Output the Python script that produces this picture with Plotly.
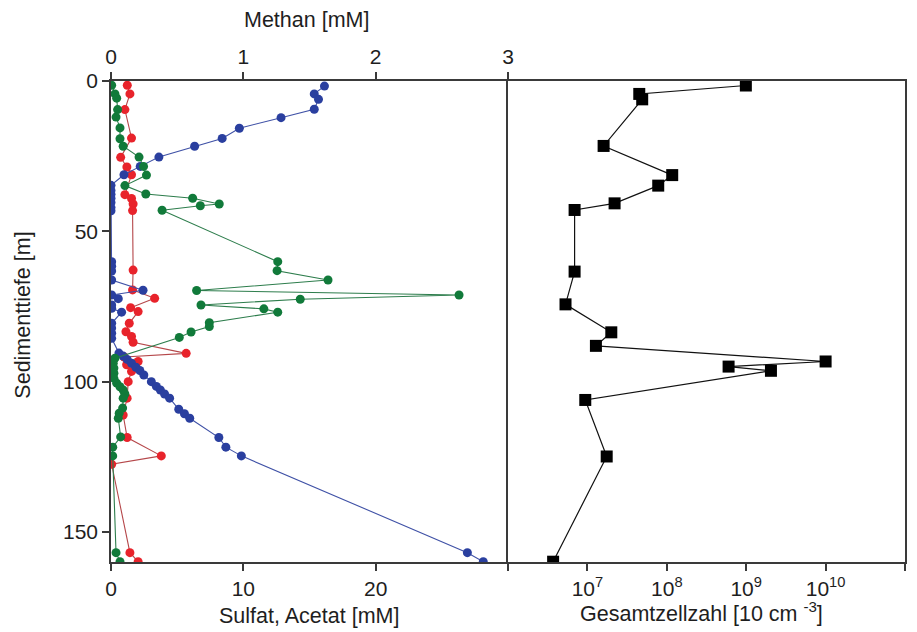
import plotly.graph_objects as go

# ---------------- data ----------------
depth_sulfat = [1.7, 4.3, 6.1, 9.4, 12.2, 15.7, 19.1, 21.7, 25.3, 28.4, 31.2, 34.7,
                36.4, 37.7, 39.0, 40.4, 42.1, 43.2, 60.1, 61.6, 63.2, 66.2, 69.6, 71.2,
                72.4, 74.5, 75.6, 76.9, 80.6, 82.2, 83.9, 85.6, 90.5, 91.5, 92.6, 93.9,
                95.2, 96.3, 97.8, 100.0, 101.6, 102.8, 104.1, 105.5, 109.2, 110.7, 112.2,
                118.6, 121.8, 124.7, 156.9, 159.9]
sulfat = [16.13, 15.36, 15.68, 15.36, 12.85, 9.70, 8.40, 6.32, 3.62, 2.21, 0.98, 0.0,
          0.0, 0.0, 0.0, 0.0, 0.0, 0.0, 0.05, 0.05, 0.05, 0.05, 2.42, 0.05,
          0.55, 0.05, 0.05, 0.8, 0.05, 0.05, 0.05, 0.05, 0.6, 0.92, 1.22, 1.55,
          1.88, 2.18, 2.48, 3.05, 3.43, 3.73, 4.05, 4.43, 5.12, 5.55, 5.95,
          8.15, 8.68, 9.85, 26.93, 28.13]

depth_methan = [1.4, 4.3, 5.7, 9.5, 12.0, 15.6, 19.2, 21.7, 25.3, 28.4, 31.3, 34.8,
                37.6, 39.0, 40.9, 41.5, 43.0, 60.1, 63.1, 66.2, 69.7, 71.2, 72.6, 74.5,
                75.8, 76.9, 80.4, 81.7, 83.5, 85.3, 92.2, 93.9, 95.5, 97.2, 98.9, 100.5,
                101.7, 102.8, 104.1, 105.5, 108.8, 110.5, 112.2, 118.4, 121.8, 124.7,
                156.9, 159.9]
methan = [0.005, 0.03, 0.043, 0.05, 0.038, 0.068, 0.068, 0.092, 0.212, 0.246, 0.268, 0.105,
          0.263, 0.617, 0.818, 0.675, 0.386, 1.26, 1.255, 1.64, 0.647, 2.63, 1.43, 0.68,
          1.155, 1.26, 0.743, 0.743, 0.605, 0.516, 0.03, 0.017, 0.022, 0.022, 0.022, 0.043,
          0.068, 0.092, 0.105, 0.092, 0.088, 0.062, 0.055, 0.073, 0.013, 0.013,
          0.038, 0.068]

depth_acetat = [1.4, 4.3, 9.5, 19.0, 25.4, 28.6, 31.2, 37.8, 39.1, 40.9, 43.1, 62.9,
                69.5, 72.3, 75.4, 76.7, 80.6, 83.4, 85.0, 86.9, 90.6, 91.8, 93.3, 94.4,
                95.5, 96.6, 100.0, 105.5, 111.1, 118.6, 124.7, 127.5, 156.9, 159.9]
acetat = [1.23, 1.43, 1.05, 1.55, 0.73, 1.2, 1.55, 1.05, 1.55, 1.67, 1.63, 1.67,
          1.63, 3.3, 1.48, 2.05, 1.38, 1.13, 1.55, 1.67, 5.68, 1.0, 2.05, 1.18,
          1.9, 1.55, 1.3, 1.22, 0.92, 1.22, 3.8, 0.05, 1.43, 2.05]

depth_zellen = [1.5, 4.3, 6.1, 21.6, 31.3, 34.8, 40.7, 42.9, 63.4, 74.3, 83.6, 88.1,
                93.3, 95.0, 96.4, 106.1, 124.9, 159.9]
zellen = [9.9e8, 4.5e7, 4.9e7, 1.6e7, 1.17e8, 7.8e7, 2.2e7, 6.9e6, 6.9e6, 5.3e6, 2.0e7,
          1.28e7, 1.0e10, 6.0e8, 2.05e9, 9.4e6, 1.75e7, 3.7e6]

log_tickvals = [1e7, 1e8, 1e9, 1e10]
log_ticktext = ["10<sup>7</sup>", "10<sup>8</sup>", "10<sup>9</sup>", "10<sup>10</sup>"]
log_edge_ticks = [1e6, 1e11]
bottom_tickvals = [0, 10, 20]
bottom_edge_ticks = [30]
top_tickvals = [0, 1, 2, 3]
depth_tickvals = [0, 50, 100, 150]

# ---------------- styles ----------------
FONT = "Liberation Sans, Arial, Helvetica, sans-serif"
AX = "#3a3a3a"
TXT = "#1e1e1e"
BLUE, BLUE_L = "#2a3f9f", "#3f51a6"
GREEN, GREEN_L = "#117a3a", "#2d7d4c"
RED, RED_L = "#e8232b", "#b5474a"

fig = go.Figure()

fig.add_trace(go.Scatter(x=methan, y=depth_methan, xaxis="x3", yaxis="y",
                         mode="lines+markers", line=dict(color=GREEN_L, width=1.1),
                         marker=dict(color=GREEN, size=9, line=dict(width=0)),
                         showlegend=False))
fig.add_trace(go.Scatter(x=acetat, y=depth_acetat, xaxis="x", yaxis="y",
                         mode="lines+markers", line=dict(color=RED_L, width=1.1),
                         marker=dict(color=RED, size=9, line=dict(width=0)),
                         showlegend=False))
fig.add_trace(go.Scatter(x=sulfat, y=depth_sulfat, xaxis="x", yaxis="y",
                         mode="lines+markers", line=dict(color=BLUE_L, width=1.1),
                         marker=dict(color=BLUE, size=9, line=dict(width=0)),
                         showlegend=False))
fig.add_trace(go.Scatter(x=zellen, y=depth_zellen, xaxis="x2", yaxis="y2",
                         mode="lines+markers", line=dict(color="#111111", width=1.2),
                         marker=dict(color="#000000", symbol="square", size=12,
                                     line=dict(width=0)),
                         showlegend=False))

tickfont = dict(family=FONT, size=21, color=TXT)
edge_minor = dict(ticks="outside", ticklen=7, tickwidth=1.5, tickcolor=AX, showgrid=False)

fig.update_layout(
    width=917, height=632,
    margin=dict(l=111, r=6, t=81, b=70),
    paper_bgcolor="white", plot_bgcolor="white",
    font=dict(family=FONT, color=TXT),
    xaxis=dict(domain=[0, 0.5], range=[0, 30], anchor="y",
               tickmode="array", tickvals=bottom_tickvals,
               ticks="outside", ticklen=7, tickwidth=1.5, tickcolor=AX,
               minor=dict(tickmode="array", tickvals=bottom_edge_ticks, **edge_minor),
               showline=True, linecolor=AX, linewidth=1.5, showgrid=False,
               zeroline=False, tickfont=tickfont),
    xaxis3=dict(range=[0, 3], overlaying="x", side="top", anchor="y",
                tickmode="array", tickvals=top_tickvals,
                ticks="outside", ticklen=7, tickwidth=1.5, tickcolor=AX,
                showline=True, linecolor=AX, linewidth=1.5, showgrid=False,
                zeroline=False, tickfont=tickfont),
    yaxis=dict(domain=[0, 1], range=[160, 0], anchor="x",
               tickmode="array", tickvals=depth_tickvals,
               ticks="outside", ticklen=7, tickwidth=1.5, tickcolor=AX,
               showline=True, linecolor=AX, linewidth=1.5, showgrid=False,
               zeroline=False, tickfont=tickfont),
    xaxis2=dict(domain=[0.5, 1], type="log", range=[6, 11], anchor="y2",
                tickmode="array", tickvals=log_tickvals, ticktext=log_ticktext,
                ticks="outside", ticklen=7, tickwidth=1.5, tickcolor=AX,
                minor=dict(tickmode="array", tickvals=log_edge_ticks, **edge_minor),
                showline=True, mirror=True, linecolor=AX, linewidth=1.5,
                showgrid=False, zeroline=False, tickfont=tickfont),
    yaxis2=dict(domain=[0, 1], range=[160, 0], anchor="x2",
                showticklabels=False, ticks="",
                showline=True, mirror=True, linecolor=AX, linewidth=1.5,
                showgrid=False, zeroline=False),
)

titlefont = dict(family=FONT, size=21.5, color=TXT)
annots = [
    dict(text="Methan [mM]", x=(308 - 111) / 800, y=(562 - 20) / 481),
    dict(text="Sulfat, Acetat [mM]", x=(310 - 111) / 800, y=(562 - 616) / 481),
    dict(text="Gesamtzellzahl [10 cm <sup>-3</sup>]", x=(706 - 111) / 800, y=(562 - 612) / 481),
]
for a in annots:
    fig.add_annotation(xref="paper", yref="paper", showarrow=False,
                       xanchor="center", yanchor="middle", font=titlefont, **a)
fig.add_annotation(text="Sedimenttiefe [m]", xref="paper", yref="paper",
                   x=(22 - 111) / 800, y=(562 - 315) / 481, textangle=-90,
                   showarrow=False, xanchor="center", yanchor="middle", font=titlefont)

fig.write_html("out.html", config={"displayModeBar": False},
               post_script="document.body.style.margin='0';document.body.style.overflow='hidden';")
